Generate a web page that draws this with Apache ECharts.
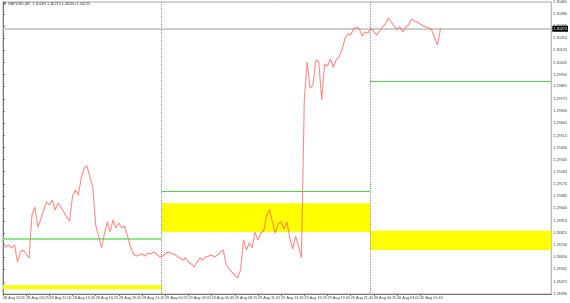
<!DOCTYPE html>
<html><head><meta charset="utf-8">
<script src="https://cdn.jsdelivr.net/npm/echarts@6/dist/echarts.min.js"></script>
<style>html,body{margin:0;padding:0;background:#fff}#c{width:570px;height:303px}</style>
</head><body><div id="c"></div>
<script>
// ---- data ----
const headerText = '\u25BC GBPUSD,M5  1.30269 1.30275 1.30260 1.30275';
const sampleStepBars = 4; // one sample every 4 M5 bars (20 min), starting 28 Aug 05:45
const closePrices = [
1.28731,1.28724,1.28738,1.28717,1.28738,1.28617,1.28688,1.28703,1.28674,1.28646,
1.28951,1.29008,1.28866,1.28916,1.28987,1.29044,1.29022,1.29058,1.28987,1.29037,
1.29008,1.28973,1.28937,1.28909,1.29086,1.29129,1.29094,1.29214,1.29285,1.29300,
1.29221,1.29150,1.28880,1.28802,1.28717,1.28816,1.28902,1.28831,1.28916,1.28859,
1.28895,1.28859,1.28873,1.28802,1.28724,1.28674,1.28660,1.28667,1.28674,1.28660,
1.28681,1.28674,1.28688,1.28674,1.28653,1.28660,1.28674,1.28688,1.28681,1.28674,
1.28660,1.28646,1.28632,1.28646,1.28617,1.28603,1.28582,1.28617,1.28646,1.28632,
1.28653,1.28660,1.28667,1.28653,1.28667,1.28688,1.28703,1.28603,1.28568,1.28546,
1.28525,1.28504,1.28561,1.28774,1.28703,1.28752,1.28717,1.28831,1.28774,1.28823,
1.28838,1.28951,1.28987,1.28902,1.28823,1.28888,1.28902,1.28852,1.28902,1.28788,
1.28710,1.28802,1.28731,1.28646,1.29769,1.30039,1.29854,1.29875,1.30053,1.30039,
1.29769,1.30024,1.30010,1.30060,1.30003,1.30053,1.30074,1.30124,1.30202,1.30238,
1.30230,1.30273,1.30287,1.30273,1.30223,1.30252,1.30245,1.30280,1.30252,1.30230,
1.30259,1.30287,1.30309,1.30351,1.30323,1.30294,1.30273,1.30287,1.30252,1.30287,
1.30302,1.30344,1.30330,1.30323,1.30309,1.30294,1.30287,1.30280,1.30266,1.30209,
1.30159,1.30275
];
const timeLabelBars = [0,32,64,96,128,160,192,224,256,288,320,352,384,416,448,480,512,544,576];
const timeLabels = ['28 Aug 2018','28 Aug 08:25','28 Aug 11:05','28 Aug 13:45','28 Aug 16:25','28 Aug 19:05',
  '28 Aug 21:45','29 Aug 00:25','29 Aug 03:05','29 Aug 05:45','29 Aug 08:25','29 Aug 11:05','29 Aug 13:45',
  '29 Aug 16:25','29 Aug 19:05','29 Aug 21:45','30 Aug 00:25','30 Aug 03:05','30 Aug 05:45'];
const priceTicks = [1.30465,1.30380,1.30295,1.30210,1.30125,1.30035,1.29950,1.29865,1.29775,1.29690,
  1.29605,1.29515,1.29430,1.29345,1.29260,1.29170,1.29085,1.29000,1.28910,1.28825,1.28740,1.28650,
  1.28565,1.28475,1.28390];
const daySeparatorBars = [219, 507];
const dayStartBars = [0, 219, 507];
const dayEndBars = [219, 507, 757];
const pivotLevels = [1.28783, 1.29120, 1.29904];
const zoneHigh = [1.28452, 1.29035, 1.28840];
const zoneLow = [1.28423, 1.28831, 1.28703];
const lastPrice = 1.30275;
const priceMin = 1.28390, priceMax = 1.30465;
const barMin = 0, barMax = 757;

// ---- chart ----
const series = closePrices.map((v, i) => [i * sampleStepBars, v]);
const chart = echarts.init(document.getElementById('c'), null, {renderer: 'canvas'});
const fontFam = 'Liberation Sans, DejaVu Sans, sans-serif';
const zones = dayStartBars.map((s, i) => [
  {coord: [s, zoneHigh[i]]}, {coord: [dayEndBars[i], zoneLow[i]]}
]);
const pivots = dayStartBars.map((s, i) => [
  {coord: [s, pivotLevels[i]], label: {show: false},
   lineStyle: {color: i === 0 ? '#8fe88a' : '#4fd24f', width: i === 0 ? 2 : 1, type: 'solid'}},
  {coord: [dayEndBars[i], pivotLevels[i]]}
]);
const separators = daySeparatorBars.map(b => [
  {coord: [b, priceMax], label: {show: false}, lineStyle: {color: '#8c8c8c', type: [1, 1], width: 1}},
  {coord: [b, priceMin]}
]);
const priceLine = [
  {coord: [barMin, lastPrice], lineStyle: {color: '#bdbdbd', width: 1.5, type: 'solid'},
   label: {show: true, position: 'end', distance: 1, formatter: lastPrice.toFixed(5), color: '#fff',
     backgroundColor: '#000', fontSize: 3.8, fontFamily: fontFam, padding: [1, 1, 1, 1]}},
  {coord: [barMax, lastPrice]}
];
chart.setOption({
  animation: false,
  backgroundColor: '#fff',
  grid: {left: 2, right: 17, top: 2, bottom: 9, show: true, borderColor: '#a8a8a8', borderWidth: 1},
  graphic: [{type: 'text', left: 3, top: 2, style: {text: headerText, fontSize: 3.8, fontFamily: fontFam, fill: '#333'}}],
  xAxis: {
    type: 'value', min: barMin, max: barMax,
    axisLine: {show: true, lineStyle: {color: '#777', width: 1}},
    axisTick: {show: true, length: 2, customValues: timeLabelBars, lineStyle: {color: '#777'}},
    axisLabel: {customValues: timeLabelBars, fontSize: 3.8, fontFamily: fontFam, color: '#444', margin: 2, align: 'left',
      formatter: v => { const k = timeLabelBars.indexOf(v); return k >= 0 ? timeLabels[k] : ''; }},
    splitLine: {show: false}
  },
  yAxis: {
    type: 'value', position: 'right', min: priceMin, max: priceMax,
    axisLine: {show: true, lineStyle: {color: '#777', width: 1}},
    axisTick: {show: true, length: 2, customValues: priceTicks, lineStyle: {color: '#777'}},
    axisLabel: {customValues: priceTicks, fontSize: 3.8, fontFamily: fontFam, color: '#444', margin: 2,
      showMinLabel: true, showMaxLabel: true, formatter: v => v.toFixed(5)},
    splitLine: {show: false}
  },
  series: [
    {
      type: 'line', data: series, z: 1, silent: true, showSymbol: false,
      lineStyle: {opacity: 0},
      markArea: {silent: true, itemStyle: {color: '#ffff00', opacity: 1}, data: zones},
      markLine: {
        silent: true, symbol: 'none', animation: false, label: {show: false},
        data: [...separators, ...pivots, priceLine]
      }
    },
    {
      type: 'line', data: series, z: 5, showSymbol: false, silent: true,
      lineStyle: {color: '#ff5a5a', width: 1.1, opacity: 0.7}
    }
  ]
});
</script>
</body></html>
